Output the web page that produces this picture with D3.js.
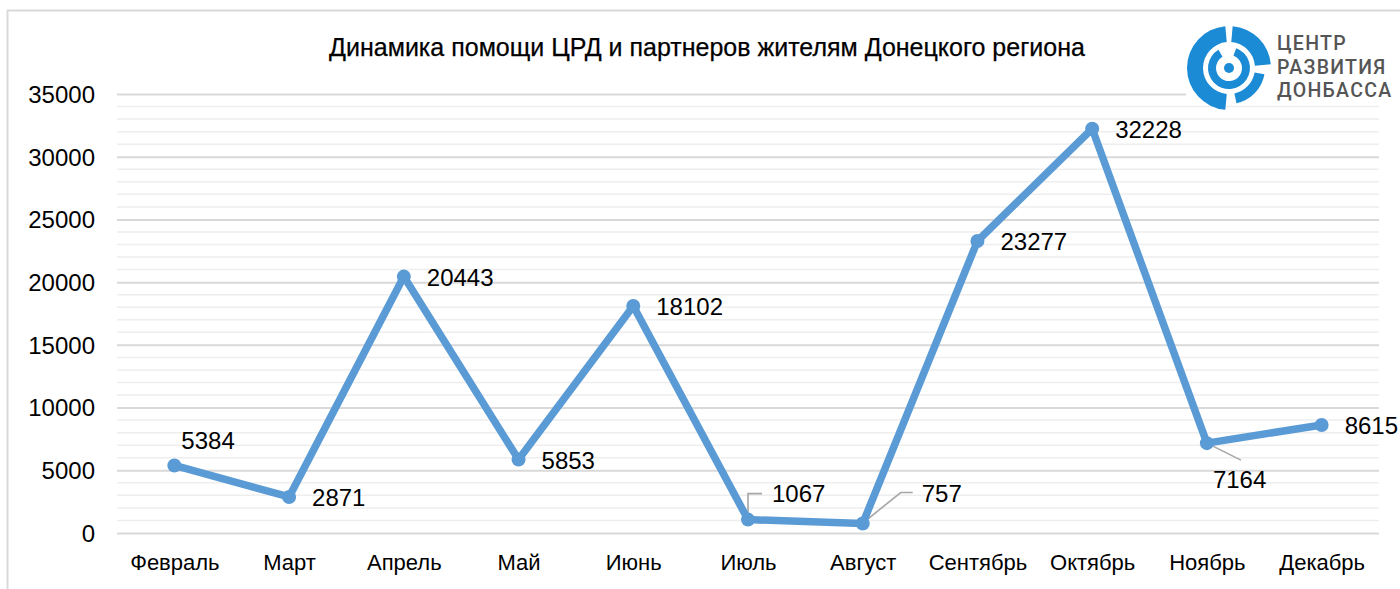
<!DOCTYPE html>
<html>
<head>
<meta charset="utf-8">
<script src="https://cdn.jsdelivr.net/npm/d3@7"></script>
<style>
  html, body { margin: 0; padding: 0; background: #fff; }
  svg { display: block; }
</style>
</head>
<body>
<svg id="chart" width="1400" height="589"></svg>
<script>
// ---- data ----
const categories = ["Февраль", "Март", "Апрель", "Май", "Июнь", "Июль", "Август", "Сентябрь", "Октябрь", "Ноябрь", "Декабрь"];
const values = [5384, 2871, 20443, 5853, 18102, 1067, 757, 23277, 32228, 7164, 8615];
const yTicks = [0, 5000, 10000, 15000, 20000, 25000, 30000, 35000];
const title = "Динамика помощи ЦРД и партнеров жителям Донецкого региона";
const logoLines = ["ЦЕНТР", "РАЗВИТИЯ", "ДОНБАССА"];

// label placement (layout, not data)
const labelPlacement = ["above", "right", "right", "right", "right", "leaderUp", "leaderUpRight", "right", "right", "leaderDown", "right"];

// ---- layout ----
const W = 1400, H = 589;
const plot = { left: 117, right: 1379, top: 94, bottom: 533 };
const svg = d3.select("#chart");
const font = "'Liberation Sans', Arial, sans-serif";

// chart frame
svg.append("path")
  .attr("d", `M7.5,${H + 5} L7.5,10.5 L${W + 5},10.5`)
  .attr("fill", "none").attr("stroke", "#d9d9d9").attr("stroke-width", 2);

const x = d3.scalePoint().domain(categories).range([plot.left, plot.right]).padding(0.5);
const y = d3.scaleLinear().domain([0, 35000]).range([plot.bottom, plot.top]);

// minor gridlines
const minor = d3.range(1000, 35000, 1000).filter(v => v % 5000 !== 0);
svg.append("g").selectAll("line").data(minor).join("line")
  .attr("x1", plot.left).attr("x2", plot.right)
  .attr("y1", d => y(d)).attr("y2", d => y(d))
  .attr("stroke", "#eeeeee").attr("stroke-width", 1.5);

// major gridlines via axis
const yAxis = d3.axisLeft(y).tickValues(yTicks).tickSize(-(plot.right - plot.left)).tickFormat(d => d);
const gy = svg.append("g").attr("transform", `translate(${plot.left},0)`).call(yAxis);
gy.select(".domain").remove();
gy.selectAll(".tick line").attr("stroke", "#d9d9d9").attr("stroke-width", 2);
gy.selectAll(".tick text")
  .attr("x", -22).attr("dy", "0.35em")
  .attr("font-family", font).attr("font-size", 24).attr("fill", "#000");

// x axis labels
const xAxis = d3.axisBottom(x).tickSize(0);
const gx = svg.append("g").attr("transform", `translate(0,${plot.bottom})`).call(xAxis);
gx.select(".domain").remove();
gx.selectAll(".tick text")
  .attr("y", 29).attr("dy", "0.35em")
  .attr("font-family", font).attr("font-size", 22).attr("fill", "#000");

// title
svg.append("text")
  .attr("x", 707).attr("y", 47).attr("text-anchor", "middle").attr("dy", "0.35em")
  .attr("font-family", font).attr("font-size", 25).attr("fill", "#000")
  .attr("stroke", "#000").attr("stroke-width", 0.25)
  .text(title);

// leader lines
const pts = values.map((v, i) => ({ v, c: categories[i], px: x(categories[i]), py: y(v), p: labelPlacement[i] }));
const leaders = svg.append("g").attr("fill", "none").attr("stroke", "#a6a6a6").attr("stroke-width", 1.6);
pts.forEach(d => {
  if (d.p === "leaderUp") {
    leaders.append("path").attr("d", `M${d.px},${d.py} L${d.px},${d.py - 26} L${d.px + 14},${d.py - 26}`);
  } else if (d.p === "leaderUpRight") {
    leaders.append("path").attr("d", `M${d.px + 2},${d.py - 2} L${d.px + 38},${d.py - 31} L${d.px + 50},${d.py - 31}`);
  } else if (d.p === "leaderDown") {
    leaders.append("path").attr("d", `M${d.px},${d.py} L${d.px + 34},${d.py + 17}`);
  }
});

// series line
const lineGen = d3.line().x(d => d.px).y(d => d.py);
svg.append("path").datum(pts)
  .attr("d", lineGen)
  .attr("fill", "none").attr("stroke", "#5b9bd5").attr("stroke-width", 7.5)
  .attr("stroke-linejoin", "round").attr("stroke-linecap", "round");

svg.append("g").selectAll("circle").data(pts).join("circle")
  .attr("cx", d => d.px).attr("cy", d => d.py).attr("r", 7)
  .attr("fill", "#5b9bd5");

// data labels
svg.append("g").selectAll("text").data(pts).join("text")
  .attr("font-family", font).attr("font-size", 24).attr("fill", "#000")
  .attr("dy", "0.35em")
  .attr("x", d => {
    if (d.p === "above") return d.px + 7;
    if (d.p === "leaderUp") return d.px + 24;
    if (d.p === "leaderUpRight") return d.px + 59;
    if (d.p === "leaderDown") return d.px + 6;
    return d.px + 23;
  })
  .attr("y", d => {
    if (d.p === "above") return d.py - 25;
    if (d.p === "leaderUp") return d.py - 26;
    if (d.p === "leaderUpRight") return d.py - 30;
    if (d.p === "leaderDown") return d.py + 36;
    return d.py + 1;
  })
  .text(d => d.v);

// logo
const logo = svg.append("g");
logo.append("rect").attr("x", 1186).attr("y", 20).attr("width", 214).attr("height", 84).attr("fill", "#fff");
const blue = "#1b8bd6";
const lc = { x: 1229, y: 68 };
const arc = d3.arc();
const deg = Math.PI / 180;
const segs = [
  { r0: 26, r1: 42, a0: 185, a1: 355 },   // big left C
  { r0: 26, r1: 42, a0: 5, a1: 85 },      // top right
  { r0: 26, r1: 36, a0: 100, a1: 168 },   // bottom right
  { r0: 13, r1: 21, a0: 20, a1: 330 },    // inner ring
];
segs.forEach(s => {
  logo.append("path")
    .attr("transform", `translate(${lc.x},${lc.y})`)
    .attr("d", arc({ innerRadius: s.r0, outerRadius: s.r1, startAngle: s.a0 * deg, endAngle: s.a1 * deg }))
    .attr("fill", blue);
});
logo.append("circle").attr("cx", lc.x).attr("cy", lc.y).attr("r", 5).attr("fill", blue);
logo.selectAll("text.l").data(logoLines).join("text")
  .attr("x", 1277).attr("y", (d, i) => 50 + i * 23.5)
  .attr("font-family", "Roboto, sans-serif").attr("font-weight", 500).attr("font-size", 19.5)
  .attr("letter-spacing", 1.3)
  .attr("fill", "#555").text(d => d);
</script>
</body>
</html>
